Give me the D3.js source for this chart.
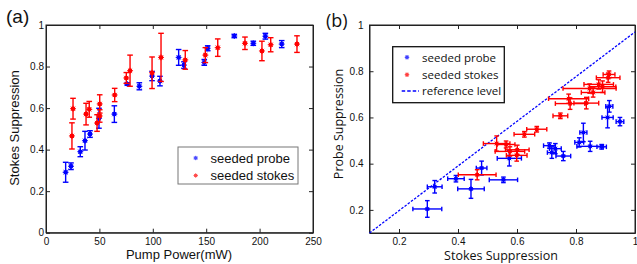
<!DOCTYPE html>
<html>
<head>
<meta charset="utf-8">
<script src="https://cdn.jsdelivr.net/npm/d3@7"></script>
<style>
  body { margin: 0; background: #fff; }
  svg { display: block; }
</style>
</head>
<body>
<svg width="637" height="264"></svg>
<script>
// ---- panel (a): suppression vs pump power ----
var probePower = [18.4, 23.4, 32.1, 36.5, 41.2, 49.6, 64, 76.1, 87.4, 99.3, 106.7, 124.2, 129.2, 148.2, 151.4, 176.3, 194.1, 205.4, 220.7];
var probeSupp  = [0.291, 0.32, 0.39, 0.443, 0.475, 0.551, 0.571, 0.716, 0.705, 0.754, 0.73, 0.844, 0.807, 0.82, 0.888, 0.947, 0.912, 0.946, 0.908];
var probeErr   = [0.048, 0.016, 0.024, 0.045, 0.016, 0.048, 0.04, 0.006, 0.017, 0.022, 0.023, 0.038, 0.016, 0.014, 0.012, 0.008, 0.01, 0.014, 0.017];

var stokesPower = [24.3, 25.3, 37.5, 40.5, 47.8, 50.3, 50.3, 64.3, 75.2, 78.7, 99.3, 107.7, 130.4, 149.2, 160.8, 186.3, 202.2, 210.4, 235];
var stokesSupp  = [0.466, 0.597, 0.571, 0.594, 0.528, 0.62, 0.562, 0.663, 0.745, 0.78, 0.77, 0.844, 0.832, 0.855, 0.891, 0.912, 0.875, 0.905, 0.908];
var stokesErr   = [0.063, 0.05, 0.052, 0.038, 0.04, 0.044, 0.03, 0.032, 0.026, 0.075, 0.076, 0.116, 0.045, 0.036, 0.042, 0.03, 0.047, 0.034, 0.04];

// ---- panel (b): probe suppression vs stokes suppression ----
var bProbeX    = [0.296, 0.321, 0.393, 0.444, 0.48, 0.554, 0.574, 0.71, 0.718, 0.73, 0.757, 0.811, 0.825, 0.848, 0.887, 0.907, 0.913, 0.949];
var bProbeY    = [0.204, 0.3, 0.335, 0.291, 0.381, 0.33, 0.423, 0.478, 0.448, 0.465, 0.433, 0.492, 0.535, 0.475, 0.473, 0.6, 0.648, 0.582];
var bProbeXErr = [0.049, 0.025, 0.028, 0.045, 0.018, 0.048, 0.041, 0.02, 0.015, 0.02, 0.025, 0.015, 0.012, 0.045, 0.016, 0.019, 0.012, 0.013];
var bProbeYErr = [0.036, 0.027, 0.014, 0.041, 0.03, 0.012, 0.033, 0.012, 0.025, 0.022, 0.02, 0.02, 0.04, 0.022, 0.01, 0.045, 0.025, 0.018];

var bStokesX    = [0.465, 0.531, 0.563, 0.576, 0.601, 0.599, 0.625, 0.667, 0.747, 0.775, 0.78, 0.835, 0.846, 0.858, 0.877, 0.89, 0.909, 0.912];
var bStokesY    = [0.352, 0.487, 0.483, 0.453, 0.46, 0.436, 0.527, 0.549, 0.607, 0.681, 0.66, 0.662, 0.725, 0.708, 0.743, 0.733, 0.772, 0.786];
var bStokesXErr = [0.064, 0.045, 0.03, 0.05, 0.04, 0.035, 0.035, 0.034, 0.025, 0.068, 0.05, 0.042, 0.09, 0.04, 0.05, 0.045, 0.04, 0.02];
var bStokesYErr = [0.022, 0.033, 0.015, 0.02, 0.02, 0.025, 0.012, 0.012, 0.012, 0.02, 0.025, 0.025, 0.02, 0.02, 0.02, 0.025, 0.02, 0.015];

var refLine = [[0.1, 0.1], [1, 0.97]];

var aTicksX = [0, 50, 100, 150, 200, 250];
var aTicksY = [0, 0.2, 0.4, 0.6, 0.8, 1];
var bTicksX = [0.2, 0.4, 0.6, 0.8, 1];
var bTicksY = [0.2, 0.4, 0.6, 0.8, 1];

var BLUE = '#0000ff', RED = '#ff0000';

var svg = d3.select('svg');

// scales
var xA = d3.scaleLinear().domain([0, 250]).range([46, 313]),
    yA = d3.scaleLinear().domain([0, 1]).range([232.7, 25]),
    xB = d3.scaleLinear().domain([0.1, 1]).range([369.5, 635]),
    yB = d3.scaleLinear().domain([0.1, 1]).range([233, 25]);

// 0 and 1 plain, the rest one decimal
function fmt(d) { return d === 0 || d === 1 ? String(d) : d3.format('.1f')(d); }
var fmtInt = d3.format('d');

// box with inward ticks on all four sides (matlab style)
function frame(x, y, tx, ty, fx, fy, font, size, pad) {
  var g = svg.append('g').attr('font-family', font).attr('font-size', size);
  var x0 = x.range()[0], x1 = x.range()[1], y0 = y.range()[0], y1 = y.range()[1];
  g.append('g').attr('transform', 'translate(0,' + y0 + ')')
    .call(d3.axisBottom(x).tickValues(tx).tickSizeInner(-4).tickSizeOuter(0).tickPadding(pad[0]).tickFormat(fx));
  g.append('g').attr('transform', 'translate(' + x0 + ',0)')
    .call(d3.axisLeft(y).tickValues(ty).tickSizeInner(-4).tickSizeOuter(0).tickPadding(pad[1]).tickFormat(fy));
  g.append('g').attr('transform', 'translate(0,' + y1 + ')')
    .call(d3.axisTop(x).tickValues(tx).tickSizeInner(-4).tickSizeOuter(0).tickFormat(''));
  g.append('g').attr('transform', 'translate(' + x1 + ',0)')
    .call(d3.axisRight(y).tickValues(ty).tickSizeInner(-4).tickSizeOuter(0).tickFormat(''));
  g.selectAll('.domain, .tick line').attr('stroke', '#222');
  g.selectAll('.tick text').attr('fill', '#111');
  g.append('rect').attr('x', x0).attr('y', y1).attr('width', x1 - x0).attr('height', y0 - y1)
    .attr('fill', 'none').attr('stroke', '#222');
  return g;
}

// matlab "*" marker
function star(g, cx, cy, color, r) {
  var m = g.append('g').attr('transform', 'translate(' + cx + ',' + cy + ')');
  m.append('circle').attr('r', r * 0.75).attr('fill', color);
  [[-r, 0, r, 0], [0, -r, 0, r], [-r * .7, -r * .7, r * .7, r * .7], [-r * .7, r * .7, r * .7, -r * .7]].forEach(function(l) {
    m.append('line').attr('x1', l[0]).attr('y1', l[1]).attr('x2', l[2]).attr('y2', l[3])
      .attr('stroke', color).attr('stroke-width', 0.9);
  });
}

function vbar(g, x, ylo, yhi, color, cap) {
  g.append('line').attr('x1', x).attr('x2', x).attr('y1', ylo).attr('y2', yhi).attr('stroke', color).attr('stroke-width', 1.4);
  [ylo, yhi].forEach(function(yy) {
    g.append('line').attr('x1', x - cap).attr('x2', x + cap).attr('y1', yy).attr('y2', yy).attr('stroke', color).attr('stroke-width', 1.4);
  });
}
function hbar(g, y, xlo, xhi, color, cap) {
  g.append('line').attr('y1', y).attr('y2', y).attr('x1', xlo).attr('x2', xhi).attr('stroke', color).attr('stroke-width', 1.4);
  [xlo, xhi].forEach(function(xx) {
    g.append('line').attr('y1', y - cap).attr('y2', y + cap).attr('x1', xx).attr('x2', xx).attr('stroke', color).attr('stroke-width', 1.4);
  });
}

// ================= panel (a) =================
var fontA = 'Liberation Sans, Arial, sans-serif';
frame(xA, yA, aTicksX, aTicksY, fmtInt, fmt, fontA, 12, [5, 2]);

var gA = svg.append('g');
function seriesA(px, sy, er, color) {
  px.forEach(function(p, i) {
    vbar(gA, xA(p), yA(sy[i] - er[i]), yA(sy[i] + er[i]), color, 2.8);
    star(gA, xA(p), yA(sy[i]), color, 3);
  });
}
seriesA(probePower, probeSupp, probeErr, BLUE);
seriesA(stokesPower, stokesSupp, stokesErr, RED);

svg.append('text').attr('x', 6).attr('y', 23).attr('font-family', fontA)
  .attr('font-size', 19).attr('fill', '#111').text('(a)');
svg.append('text').attr('x', 179).attr('y', 259).attr('text-anchor', 'middle')
  .attr('font-family', fontA).attr('font-size', 13).attr('fill', '#111').text('Pump Power(mW)');
svg.append('text').attr('transform', 'translate(19,128) rotate(-90)').attr('text-anchor', 'middle')
  .attr('font-family', fontA).attr('font-size', 13).attr('fill', '#111').text('Stokes Suppression');

// legend (a)
var legA = svg.append('g').attr('font-family', fontA).attr('font-size', 13);
legA.append('rect').attr('x', 178).attr('y', 147).attr('width', 120).attr('height', 37)
  .attr('fill', '#fff').attr('stroke', '#777');
[['seeded probe', BLUE, 158], ['seeded stokes', RED, 175.5]].forEach(function(e) {
  var m = legA.append('g').attr('opacity', 0.7);
  star(m, 195.7, e[2], e[1], 2.2);
  legA.append('text').attr('x', 210.5).attr('y', e[2] + 4.5).attr('fill', '#111').text(e[0]);
});

// ================= panel (b) =================
var fontB = 'Open Sans, Lato, sans-serif';
frame(xB, yB, bTicksX, bTicksY, fmt, fmt, fontB, 11, [5, 6]);

var gB = svg.append('g');
gB.append('line')
  .attr('x1', xB(refLine[0][0])).attr('y1', yB(refLine[0][1]))
  .attr('x2', xB(refLine[1][0])).attr('y2', yB(refLine[1][1]))
  .attr('stroke', BLUE).attr('stroke-width', 1.3).attr('stroke-dasharray', '2.5,1.5');

function seriesB(xs, ys, xe, ye, color) {
  xs.forEach(function(v, i) {
    hbar(gB, yB(ys[i]), xB(v - xe[i]), xB(v + xe[i]), color, 2.3);
    vbar(gB, xB(v), yB(ys[i] - ye[i]), yB(ys[i] + ye[i]), color, 2.3);
    star(gB, xB(v), yB(ys[i]), color, 2.7);
  });
}
seriesB(bProbeX, bProbeY, bProbeXErr, bProbeYErr, BLUE);
seriesB(bStokesX, bStokesY, bStokesXErr, bStokesYErr, RED);

svg.append('text').attr('x', 326).attr('y', 27).attr('font-family', fontB)
  .attr('font-size', 18).attr('fill', '#111').text('(b)');
svg.append('text').attr('x', 501).attr('y', 260).attr('text-anchor', 'middle')
  .attr('font-family', fontB).attr('font-size', 12.5).attr('fill', '#111').text('Stokes Suppression');
svg.append('text').attr('transform', 'translate(343,124) rotate(-90)').attr('text-anchor', 'middle')
  .attr('font-family', fontB).attr('font-size', 12.5).attr('fill', '#111').text('Probe Suppression');

// legend (b)
var legB = svg.append('g').attr('font-family', fontB).attr('font-size', 11.5);
legB.append('rect').attr('x', 392.7).attr('y', 46.7).attr('width', 111.6).attr('height', 56)
  .attr('fill', '#fff').attr('stroke', '#111').attr('stroke-width', 1.3);
[['seeded probe', BLUE, 57.3], ['seeded stokes', RED, 74.7]].forEach(function(e) {
  var m = legB.append('g').attr('opacity', 0.75);
  star(m, 407, e[2], e[1], 2.3);
  legB.append('text').attr('x', 422).attr('y', e[2] + 4.2).attr('fill', '#111').text(e[0]);
});
legB.append('line').attr('x1', 401.7).attr('x2', 419).attr('y1', 91).attr('y2', 91)
  .attr('stroke', BLUE).attr('stroke-width', 1.5).attr('stroke-dasharray', '3.5,2');
legB.append('text').attr('x', 422).attr('y', 95.2).attr('fill', '#111').text('reference level');
</script>
</body>
</html>
